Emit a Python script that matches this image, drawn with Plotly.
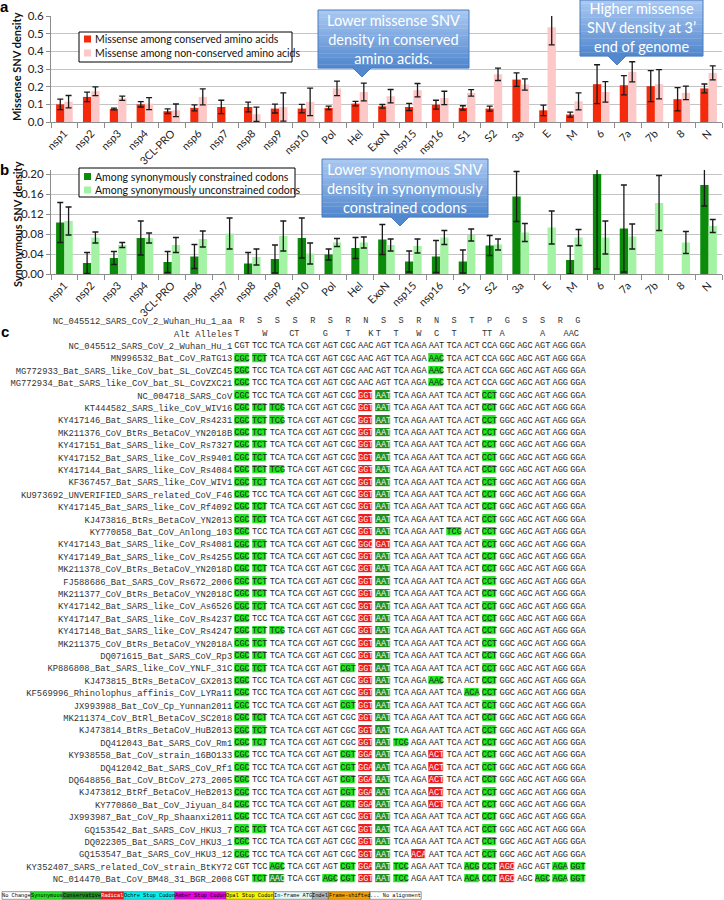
import plotly.graph_objects as go

# ---------------- data: panels a & b ----------------
categories = ["nsp1", "nsp2", "nsp3", "nsp4", "3CL-PRO", "nsp6", "nsp7", "nsp8", "nsp9", "nsp10",
              "Pol", "Hel", "ExoN", "nsp15", "nsp16", "S1", "S2", "3a", "E", "M", "6", "7a", "7b", "8", "N"]

missense_conserved = [0.10, 0.142, 0.074, 0.10, 0.061, 0.08, 0.085, 0.085, 0.076, 0.076, 0.08, 0.104, 0.089,
                      0.085, 0.098, 0.08, 0.076, 0.24, 0.066, 0.042, 0.214, 0.208, 0.203, 0.129, 0.19]
missense_conserved_err = [0.03, 0.027, 0.005, 0.015, 0.013, 0.017, 0.038, 0.028, 0.025, 0.024, 0.01, 0.013, 0.01,
                          0.02, 0.025, 0.012, 0.014, 0.038, 0.03, 0.014, 0.11, 0.054, 0.088, 0.066, 0.025]
missense_nonconserved = [0.115, 0.174, 0.134, 0.104, 0.066, 0.142, None, 0.044, 0.085, 0.114, 0.19, 0.17, 0.146,
                         0.18, 0.136, 0.165, 0.27, 0.212, 0.536, 0.117, 0.17, 0.284, 0.214, 0.165, 0.278]
missense_nonconserved_err = [0.035, 0.025, 0.012, 0.034, 0.036, 0.045, None, 0.04, 0.08, 0.078, 0.041, 0.05, 0.038,
                             0.038, 0.038, 0.018, 0.035, 0.032, 0.1, 0.048, 0.058, 0.057, 0.083, 0.038, 0.04]

syn_constrained = [0.103, 0.022, 0.032, 0.072, 0.024, 0.035, None, 0.021, 0.03, 0.072, 0.039, 0.052, 0.069,
                   0.025, 0.035, 0.025, 0.057, 0.155, None, 0.028, 0.20, 0.091, None, None, 0.178]
syn_constrained_err = [0.04, 0.021, 0.013, 0.034, 0.021, 0.024, None, 0.022, 0.028, 0.04, 0.011, 0.021, 0.03,
                       0.021, 0.032, 0.023, 0.02, 0.05, None, 0.028, 0.19, 0.087, None, None, 0.042]
syn_unconstrained = [0.106, 0.073, 0.058, 0.072, 0.058, 0.07, 0.081, 0.034, 0.076, 0.041, 0.063, 0.063, 0.058,
                     0.056, 0.073, 0.078, 0.059, 0.083, 0.093, 0.073, 0.073, 0.075, 0.142, 0.063, 0.096]
syn_unconstrained_err = [0.028, 0.011, 0.005, 0.01, 0.015, 0.016, 0.031, 0.016, 0.03, 0.021, 0.008, 0.011, 0.012,
                         0.014, 0.014, 0.012, 0.011, 0.018, 0.033, 0.016, 0.033, 0.025, 0.055, 0.022, 0.013]

a_ticks = [0.0, 0.1, 0.2, 0.3, 0.4, 0.5, 0.6]
b_ticks = [0.00, 0.04, 0.08, 0.12, 0.16, 0.20]

# ---------------- data: panel c ----------------
ref_aa = "R S S S R S R N S S R N S T P G S S R G".split()
alt_cols = [-0.29, 1.29, 2.96, 4.71, 6.0, 7.29, 7.71, 8.71, 10.0, 11.0, 12.0, 13.86, 14.71, 17.0, 18.62]
alt_text = ["T", "W", "CT", "G", "T", "K", "T", "T", "W", "C", "T", "TT", "A", "A", "AAC"]

REF = "CGT TCC TCA TCA CGT AGT CGC AAC AGT TCA AGA AAT TCA ACT CCA GGC AGC AGT AGG GGA"
P7 = "CGC TCT TCA TCA CGT AGT CGC GGT AAT TCA AGA AAT TCA ACT CCT GGC AGC AGT AGG GGA"
M7 = "ss.....rc.....s....."
P12 = "CGC TCC TCA TCA CGT AGT CGC GGT AAT TCA AGA AAT TCA ACT CCT GGC AGC AGT AGG GGA"
M12 = "s......rc.....s....."
P5 = "CGC TCT TCG TCA CGT AGT CGC GGT AAT TCA AGA AAT TCA ACT CCT GGC AGC AGT AGG GGA"
M5 = "sss....rc.....s....."
P33 = "CGC TCC TCA TCA CGT AGT CGT GGA AAT TCA AGA ACT TCA ACT CCT GGC AGC AGT AGG GGA"
M33 = "s.....src..r..s....."

seq_names = [
    "NC_045512_SARS_CoV_2_Wuhan_Hu_1", "MN996532_Bat_CoV_RaTG13",
    "MG772933_Bat_SARS_like_CoV_bat_SL_CoVZC45", "MG772934_Bat_SARS_like_CoV_bat_SL_CoVZXC21",
    "NC_004718_SARS_CoV", "KT444582_SARS_like_CoV_WIV16", "KY417146_Bat_SARS_like_CoV_Rs4231",
    "MK211376_CoV_BtRs_BetaCoV_YN2018B", "KY417151_Bat_SARS_like_CoV_Rs7327",
    "KY417152_Bat_SARS_like_CoV_Rs9401", "KY417144_Bat_SARS_like_CoV_Rs4084",
    "KF367457_Bat_SARS_like_CoV_WIV1", "KU973692_UNVERIFIED_SARS_related_CoV_F46",
    "KY417145_Bat_SARS_like_CoV_Rf4092", "KJ473816_BtRs_BetaCoV_YN2013", "KY770858_Bat_CoV_Anlong_103",
    "KY417143_Bat_SARS_like_CoV_Rs4081", "KY417149_Bat_SARS_like_CoV_Rs4255",
    "MK211378_CoV_BtRs_BetaCoV_YN2018D", "FJ588686_Bat_SARS_CoV_Rs672_2006",
    "MK211377_CoV_BtRs_BetaCoV_YN2018C", "KY417142_Bat_SARS_like_CoV_As6526",
    "KY417147_Bat_SARS_like_CoV_Rs4237", "KY417148_Bat_SARS_like_CoV_Rs4247",
    "MK211375_CoV_BtRs_BetaCoV_YN2018A", "DQ071615_Bat_SARS_CoV_Rp3", "KP886808_Bat_SARS_like_CoV_YNLF_31C",
    "KJ473815_BtRs_BetaCoV_GX2013", "KF569996_Rhinolophus_affinis_CoV_LYRa11",
    "JX993988_Bat_CoV_Cp_Yunnan2011", "MK211374_CoV_BtRl_BetaCoV_SC2018", "KJ473814_BtRs_BetaCoV_HuB2013",
    "DQ412043_Bat_SARS_CoV_Rm1", "KY938558_Bat_CoV_strain_16BO133", "DQ412042_Bat_SARS_CoV_Rf1",
    "DQ648856_Bat_CoV_BtCoV_273_2005", "KJ473812_BtRf_BetaCoV_HeB2013", "KY770860_Bat_CoV_Jiyuan_84",
    "JX993987_Bat_CoV_Rp_Shaanxi2011", "GQ153542_Bat_SARS_CoV_HKU3_7", "DQ022305_Bat_SARS_CoV_HKU3_1",
    "GQ153547_Bat_SARS_CoV_HKU3_12", "KY352407_SARS_related_CoV_strain_BtKY72",
    "NC_014470_Bat_CoV_BM48_31_BGR_2008",
]
seq_codons = [
    REF,
    "CGC TCT TCA TCA CGT AGT CGC AAC AGT TCA AGA AAC TCA ACT CCA GGC AGC AGT AGG GGA",
    "CGC TCC TCA TCA CGT AGT CGC AAC AGT TCA AGA AAC TCA ACT CCA GGC AGC AGT AGG GGA",
    "CGC TCC TCA TCA CGT AGT CGC AAC AGT TCA AGA AAC TCA ACT CCA GGC AGC AGT AGG GGA",
    P12, P5, P5, P7, P7, P7, P5, P7, P12, P7, P7,
    "CGC TCC TCA TCA CGT AGT CGC GGT AAT TCA AGA AAT TCG ACT CCT GGC AGC AGT AGG GGA",
    "CGC TCT TCA TCA CGT AGT CGC GGC GAT TCA AGA AAT TCA ACT CCT GGC AGC AGT AGG GGA",
    P7, P7, P7, P7, P7, P12, P5, P7, P7,
    "CGC TCT TCA TCA CGT AGT CGT GGT AAT TCA AGA AAT TCA ACT CCT GGC AGC AGT AGG GGA",
    "CGC TCC TCA TCA CGT AGT CGC GGT AAT TCA AGA AAC TCA ACT CCT GGC AGC AGT AGG GGA",
    "CGC TCC TCA TCA CGT AGT CGC GGT AAT TCA AGA AAT TCA ACA CCT GGC AGC AGT AGG GGA",
    "CGC TCC TCA TCA CGT AGT CGT GGT AAT TCA AGA AAT TCA ACT CCT GGC AGC AGT AGG GGA",
    P7, P7,
    "CGC TCT TCA TCA CGT AGT CGC GGT AAT TCG AGA AAT TCA ACT CCT GGC AGC AGT AGG GGA",
    P33, P33, P33, P33, P33,
    P12, P7, P12,
    "CGC TCC TCA TCA CGT AGT CGC GGT AAT TCA ACA AAT TCA ACT CCT GGC AGC AGT AGG GGA",
    "CGT TCC AGC TCA CGT AGT CGT GGA AAT TCC AGA AAT TCA ACG CCT AGC AGC AGT AGA GGT",
    "CGT TCT AAC TCA CGT AGC CGT GGT AAT TCC AGA AAT TCA ACA CCT AGC AGC AGC AGA GGT",
]
seq_marks = [
    "....................",
    "ss.........s........",
    "s..........s........",
    "s..........s........",
    M12, M5, M5, M7, M7, M7, M5, M7, M12, M7, M7,
    "s......rc...s.s.....",
    "ss.....rr.....s.....",
    M7, M7, M7, M7, M7, M12, M5, M7, M7,
    "ss....src.....s.....",
    "s......rc..s..s.....",
    "s......rc....ss.....",
    "s.....src.....s.....",
    M7, M7,
    "ss.....rcs....s.....",
    M33, M33, M33, M33, M33,
    M12, M7, M12,
    "s......rc.r...s.....",
    "..s...srcs...ssr..ss",
    ".sc..ssrcs...ssr.sss",
]

legend_labels = ["No Change", "Synonymous", "Conservative", "Radical", "Ochre Stop Codon", "Amber Stop Codon",
                 "Opal Stop Codon", "In-frame ATG", "Indel", "Frame-shifted", "... No alignment"]
legend_colors = ["#ffffff", "#22e622", "#1f8f1f", "#ee1c1c", "#00f0f0", "#e600e6",
                 "#f5f500", "#e6fafa", "#b4b4b4", "#f5a000", "#ffffff"]
legend_text_colors = ["#000", "#000", "#000", "#fff", "#000", "#000", "#000", "#000", "#000", "#000", "#000"]

# ---------------- helpers ----------------
W, H = 724, 900


def PX(x):
    return x / W


def PY(y):
    return 1 - y / H


SANS = "Lato, Open Sans, sans-serif"
MONO = "Liberation Mono, DejaVu Sans Mono, monospace"

fig = go.Figure()

err_style = dict(type="data", color="#1a1a1a", thickness=1.3, width=3, visible=True)

# panel a
fig.add_trace(go.Bar(x=categories, y=missense_conserved, name="Missense among conserved amino acids",
                     marker=dict(color="#f52a0c", line=dict(width=0)),
                     error_y=dict(array=missense_conserved_err, **err_style),
                     xaxis="x", yaxis="y", showlegend=False, hoverinfo="skip"))
fig.add_trace(go.Bar(x=categories, y=missense_nonconserved, name="Missense among non-conserved amino acids",
                     marker=dict(color="#fcc8c8", line=dict(width=0)),
                     error_y=dict(array=missense_nonconserved_err, **err_style),
                     xaxis="x", yaxis="y", showlegend=False, hoverinfo="skip"))
# panel b
fig.add_trace(go.Bar(x=categories, y=syn_constrained, name="Among synonymously constrained codons",
                     marker=dict(color="#0a8c0a", line=dict(width=0)),
                     error_y=dict(array=syn_constrained_err, **err_style),
                     xaxis="x2", yaxis="y2", showlegend=False, hoverinfo="skip"))
fig.add_trace(go.Bar(x=categories, y=syn_unconstrained, name="Among synonymously unconstrained codons",
                     marker=dict(color="#a4f2a4", line=dict(width=0)),
                     error_y=dict(array=syn_unconstrained_err, **err_style),
                     xaxis="x2", yaxis="y2", showlegend=False, hoverinfo="skip"))

# panel c heatmap
code_map = {".": None, "s": 1, "c": 2, "r": 3}
n_rows = len(seq_names) + 2
z = [[None] * 20, [None] * 20]
for m in seq_marks:
    z.append([code_map[ch] for ch in m])
cscale = [[0.0, "#22e622"], [0.3333, "#22e622"], [0.3334, "#1f8f1f"], [0.6666, "#1f8f1f"],
          [0.6667, "#ee1c1c"], [1.0, "#ee1c1c"]]
fig.add_trace(go.Heatmap(z=z, x=list(range(20)), y=list(range(n_rows)), colorscale=cscale, zmin=0.5, zmax=3.5,
                         showscale=False, xgap=3.4, ygap=3.8, hoverinfo="skip", xaxis="x3", yaxis="y3"))

tx, ty, tt, tc = [], [], [], []
for r, (cods, marks) in enumerate(zip(seq_codons, seq_marks)):
    for c, (cod, mk) in enumerate(zip(cods.split(), marks)):
        tx.append(c)
        ty.append(r + 2)
        tt.append(cod)
        tc.append("#f4f4f4" if mk in "cr" else "#1e1e1e")
fig.add_trace(go.Scatter(x=tx, y=ty, text=tt, mode="text", textposition="middle center",
                         textfont=dict(family=MONO, size=8.6, color=tc), hoverinfo="skip",
                         showlegend=False, xaxis="x3", yaxis="y3"))
fig.add_trace(go.Scatter(x=list(range(20)), y=[0] * 20, text=ref_aa, mode="text", textposition="middle center",
                         textfont=dict(family=MONO, size=8.6, color="#333"), hoverinfo="skip",
                         showlegend=False, xaxis="x3", yaxis="y3"))
fig.add_trace(go.Scatter(x=alt_cols, y=[1] * len(alt_cols), text=alt_text, mode="text",
                         textposition="middle center",
                         textfont=dict(family=MONO, size=8.6, color="#333"), hoverinfo="skip",
                         showlegend=False, xaxis="x3", yaxis="y3"))

axis_col = "#8c8c8c"
common_x = dict(type="category", showline=True, linecolor=axis_col, linewidth=1, ticks="outside",
                tickson="boundaries", ticklen=5, tickcolor=axis_col, tickangle=-45, showgrid=False,
                tickfont=dict(family=SANS, size=10.8, color="#222"), fixedrange=True, automargin=False)
common_y = dict(showline=True, linecolor=axis_col, linewidth=1, ticks="outside", ticklen=4, tickcolor=axis_col,
                gridcolor="#c4c4c4", gridwidth=1, zeroline=False, tickfont=dict(family=SANS, size=11.5, color="#222"),
                fixedrange=True, automargin=False)

fig.update_layout(
    width=W, height=H, margin=dict(l=0, r=0, t=0, b=0, autoexpand=False),
    paper_bgcolor="white", plot_bgcolor="white",
    barmode="group", bargap=0.38, bargroupgap=0.0,
    showlegend=False,
    xaxis=dict(domain=[PX(51), PX(722)], anchor="y", **common_x),
    yaxis=dict(domain=[PY(122), PY(16)], anchor="x", range=[0, 0.6], tickvals=a_ticks, tickformat=".1f",
               **common_y),
    xaxis2=dict(domain=[PX(51), PX(722)], anchor="y2", **common_x),
    yaxis2=dict(domain=[PY(274), PY(170)], anchor="x2", range=[0, 0.208], tickvals=b_ticks, tickformat=".2f",
                **common_y),
    xaxis3=dict(domain=[PX(233.2), PX(586.8)], anchor="y3", range=[-0.5, 19.5], visible=False, fixedrange=True,
                automargin=False),
    yaxis3=dict(domain=[PY(885.4), PY(315)], anchor="x3", range=[n_rows - 0.5, -0.5],
                tickmode="array", tickvals=list(range(n_rows)),
                ticktext=["NC_045512_SARS_CoV_2_Wuhan_Hu_1_aa", "Alt Alleles"] + seq_names,
                showgrid=False, zeroline=False, showline=False, ticks="", automargin=False,
                tickfont=dict(family=MONO, size=8.8, color="#333"), fixedrange=True),
)

shapes = []
annotations = []


def add_legend(x0, y0, x1, y1, items):
    shapes.append(dict(type="rect", xref="paper", yref="paper", x0=PX(x0), x1=PX(x1), y0=PY(y1), y1=PY(y0),
                       fillcolor="white", line=dict(color="#000", width=1), layer="above"))
    for (yc, col, label) in items:
        shapes.append(dict(type="rect", xref="paper", yref="paper", x0=PX(x0 + 5), x1=PX(x0 + 12),
                           y0=PY(yc + 3.5), y1=PY(yc - 3.5), fillcolor=col, line=dict(width=0), layer="above"))
        annotations.append(dict(x=PX(x0 + 14), y=PY(yc), xref="paper", yref="paper", text=label,
                                showarrow=False, xanchor="left", yanchor="middle",
                                font=dict(family=SANS, size=10.5, color="#111")))


add_legend(79, 32, 292, 62, [(39, "#f52a0c", "Missense among conserved amino acids"),
                             (53, "#fcc8c8", "Missense among non-conserved amino acids")])
add_legend(79, 168, 295, 197, [(176.5, "#0a8c0a", "Among synonymously constrained codons"),
                               (190, "#a4f2a4", "Among synonymously unconstrained codons")])


def add_callout(x0, y0, x1, y1, tipx, tipy, half, text):
    n = 16
    top = (168, 199, 241)
    bot = (82, 136, 206)
    for i in range(n):
        f = i / (n - 1)
        col = tuple(int(top[k] + (bot[k] - top[k]) * f) for k in range(3))
        ya = y0 + (y1 - y0) * i / n
        yb = y0 + (y1 - y0) * (i + 1) / n + 0.3
        shapes.append(dict(type="rect", xref="paper", yref="paper", x0=PX(x0), x1=PX(x1), y0=PY(yb), y1=PY(ya),
                           fillcolor="rgb(%d,%d,%d)" % col, line=dict(width=0), layer="above"))
    shapes.append(dict(type="rect", xref="paper", yref="paper", x0=PX(x0), x1=PX(x1), y0=PY(y1), y1=PY(y0),
                       fillcolor="rgba(0,0,0,0)", line=dict(color="#4a7cc0", width=1), layer="above"))
    path = "M %f,%f L %f,%f L %f,%f L %f,%f L %f,%f" % (
        PX(tipx - half), PY(y1 - 1), PX(tipx - half), PY(y1), PX(tipx), PY(tipy),
        PX(tipx + half), PY(y1), PX(tipx + half), PY(y1 - 1))
    shapes.append(dict(type="path", xref="paper", yref="paper", path=path, fillcolor="rgb(%d,%d,%d)" % bot,
                       line=dict(color="#4a7cc0", width=1), layer="above"))
    annotations.append(dict(x=PX((x0 + x1) / 2), y=PY((y0 + y1) / 2), xref="paper", yref="paper", text=text,
                            showarrow=False, xanchor="center", yanchor="middle", align="center",
                            font=dict(family=SANS, size=14.5, color="white")))


add_callout(318, 10, 469, 68, 362, 77, 9, "Lower missense SNV<br>density in conserved<br>amino acids.")
add_callout(580, 0, 703, 56, 617, 65, 9, "Higher missense<br>SNV density at 3’<br>end of genome")
add_callout(322, 159, 488, 217, 400, 226, 9, "Lower synonymous SNV<br>density in synonymously<br>constrained codons")

# axis titles and panel letters
annotations.append(dict(x=PX(17), y=PY(67), xref="paper", yref="paper", text="<b>Missense SNV density</b>",
                        textangle=-90, showarrow=False, xanchor="center", yanchor="middle",
                        font=dict(family=SANS, size=11, color="#111")))
annotations.append(dict(x=PX(17), y=PY(224), xref="paper", yref="paper", text="<b>Synonymous SNV density</b>",
                        textangle=-90, showarrow=False, xanchor="center", yanchor="middle",
                        font=dict(family=SANS, size=11, color="#111")))
for lab, yy in [("a", 7), ("b", 169), ("c", 331)]:
    annotations.append(dict(x=PX(4.5), y=PY(yy), xref="paper", yref="paper", text="<b>%s</b>" % lab,
                            showarrow=False, xanchor="center", yanchor="middle",
                            font=dict(family="Liberation Sans, Arial", size=15, color="#000")))

# bottom colour legend for panel c
xcur = 2.0
for lab, col, tcol in zip(legend_labels, legend_colors, legend_text_colors):
    w = 3.2 * len(lab)
    shapes.append(dict(type="rect", xref="paper", yref="paper", x0=PX(xcur), x1=PX(xcur + w),
                       y0=PY(899.3), y1=PY(891.7), fillcolor=col, line=dict(color="#555", width=0.6),
                       layer="above"))
    annotations.append(dict(x=PX(xcur + w / 2), y=PY(895.5), xref="paper", yref="paper", text=lab,
                            showarrow=False, xanchor="center", yanchor="middle",
                            font=dict(family=MONO, size=5.3, color=tcol)))
    xcur += w

fig.update_layout(shapes=shapes, annotations=annotations)
fig.write_html("out.html", config={"displayModeBar": False},
               post_script="document.body.style.margin='0';document.body.style.overflow='hidden';")
